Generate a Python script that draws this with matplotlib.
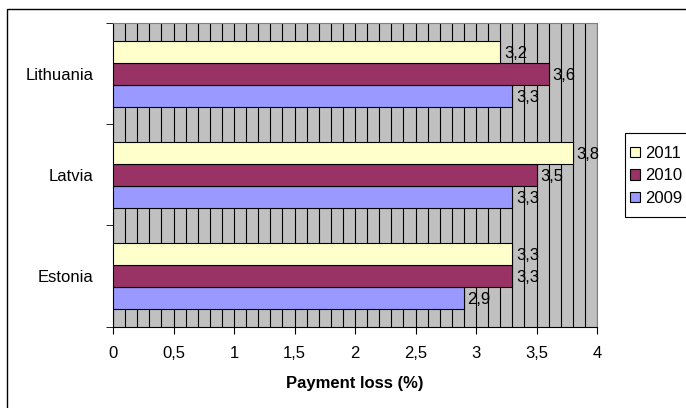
import numpy as np
import matplotlib.pyplot as plt
from matplotlib.patches import Rectangle

plt.rcParams['font.family'] = ['Liberation Sans', 'DejaVu Sans']

countries = ['Estonia', 'Latvia', 'Lithuania']
years = ['2009', '2010', '2011']
loss_2009 = [2.9, 3.3, 3.3]
loss_2010 = [3.3, 3.5, 3.6]
loss_2011 = [3.3, 3.8, 3.2]
colors = ['#9999FF', '#993366', '#FFFFCC']

fs = 12

fig = plt.figure(figsize=(6.86, 4.08), dpi=100)
ax = fig.add_axes([113/686, 1 - 326.5/408, 484/686, 303.5/408])

# outer chart border (right/bottom cropped off in the original)
fig.patches.append(Rectangle((7/686, -0.1), 2, 1.1 - 9/408, transform=fig.transFigure,
                             fill=False, edgecolor='black', linewidth=1.0))
# legend box (drawn separately so it can be taller than the entries need)
fig.patches.append(Rectangle((625/686, 1 - 217/408), 0.2, 84/408, transform=fig.transFigure,
                             facecolor='white', edgecolor='black', linewidth=0.8))

y = np.arange(len(countries))
h = 0.218
series = [loss_2009, loss_2010, loss_2011]
for k, (vals, c, lab) in enumerate(zip(series, colors, years)):
    pos = y + (k - 1) * h
    ax.barh(pos, vals, height=h, color=c, edgecolor='black', linewidth=0.8,
            label=lab, zorder=3)
    for p, v in zip(pos, vals):
        ax.text(v + 0.03, p - 0.02, str(v).replace('.', ','), va='center', ha='left',
                fontsize=fs, zorder=4)

ax.set_facecolor('#C0C0C0')
ax.set_xlim(0, 4)
ax.set_ylim(-0.5, 2.5)
ax.set_xticks(np.arange(0, 4.01, 0.5))
ax.set_xticklabels(['0', '0,5', '1', '1,5', '2', '2,5', '3', '3,5', '4'], fontsize=fs)
ax.set_xticks(np.arange(0, 4.01, 0.1), minor=True)
ax.tick_params(axis='x', which='minor', length=0)
ax.xaxis.grid(True, which='both', color='black', linewidth=0.8, zorder=1)
ax.set_axisbelow(True)
ax.set_yticks(y)
ax.set_yticklabels(countries, fontsize=fs)
ax.set_yticks([-0.5, 0.5, 1.5, 2.5], minor=True)
ax.tick_params(axis='y', which='major', length=0, pad=14)
ax.tick_params(axis='y', which='minor', length=5)
ax.tick_params(axis='x', which='major', length=5, pad=9)
for s in ['top', 'right']:
    ax.spines[s].set_color('#808080')
ax.set_xlabel('Payment loss (%)', fontsize=fs, fontweight='bold', labelpad=11)

handles, labels = ax.get_legend_handles_labels()
leg = fig.legend(handles[::-1], labels[::-1], loc='center left',
                 bbox_to_anchor=(627/686, 1 - 176/408), fontsize=fs,
                 frameon=False,
                 handlelength=0.6, handleheight=0.6, handletextpad=0.3,
                 borderpad=0.2, labelspacing=0.45, borderaxespad=0)

fig.savefig('out.png', dpi=100)
